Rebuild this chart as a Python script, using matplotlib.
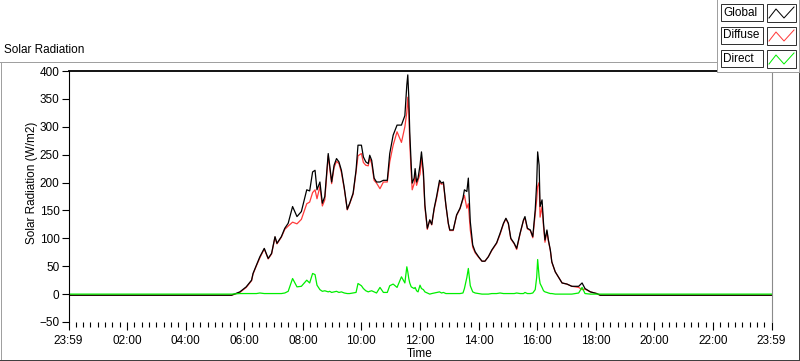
import numpy as np
import matplotlib
matplotlib.use("Agg")
import matplotlib.pyplot as plt
from matplotlib.lines import Line2D
from matplotlib.patches import Rectangle

# datos (W/m2)
times = ["00:00", "05:34", "05:51", "06:04", "06:15", "06:18", "06:25", "06:32", "06:41", "06:49",
         "06:56", "07:03", "07:07", "07:16", "07:23", "07:30", "07:39", "07:48", "07:57", "08:08",
         "08:14", "08:20", "08:25", "08:29", "08:35", "08:40", "08:45", "08:52", "08:55", "08:59",
         "09:04", "09:09", "09:14", "09:19", "09:25", "09:31", "09:36", "09:43", "09:49", "09:53",
         "10:00", "10:04", "10:09", "10:14", "10:17", "10:21", "10:26", "10:31", "10:38", "10:45",
         "10:53", "10:58", "11:05", "11:13", "11:22", "11:29", "11:33", "11:35", "11:37", "11:39",
         "11:42", "11:44", "11:48", "11:50", "11:53", "11:56", "12:00", "12:03", "12:07", "12:10",
         "12:15", "12:20", "12:24", "12:29", "12:34", "12:40", "12:44", "12:48", "12:53", "12:58",
         "13:01", "13:08", "13:15", "13:22", "13:28", "13:31", "13:36", "13:39", "13:43", "13:48",
         "13:53", "14:00", "14:07", "14:13", "14:20", "14:27", "14:37", "14:44", "14:51", "14:56",
         "15:01", "15:06", "15:13", "15:18", "15:25", "15:32", "15:35", "15:40", "15:46", "15:51",
         "15:56", "15:59", "16:01", "16:04", "16:06", "16:10", "16:13", "16:16", "16:20", "16:23",
         "16:27", "16:30", "16:37", "16:44", "16:51", "17:01", "17:11", "17:25", "17:32", "17:38",
         "17:49", "18:02", "18:09", "24:00"]

global_rad = [-2, -2, 4, 13, 25, 37, 52, 67, 82, 64,
              73, 103, 91, 103, 118, 127, 157, 139, 148, 187,
              185, 219, 222, 187, 201, 163, 175, 252, 231, 201,
              231, 243, 237, 222, 190, 152, 163, 181, 222, 267,
              267, 246, 237, 234, 249, 240, 208, 201, 201, 204,
              204, 252, 285, 303, 303, 320, 375, 393, 354, 291,
              231, 199, 208, 225, 201, 208, 231, 255, 219, 160,
              118, 133, 125, 154, 175, 204, 199, 201, 160, 127,
              115, 115, 142, 154, 172, 187, 184, 208, 130, 88,
              76, 67, 59, 59, 67, 79, 92, 109, 127, 136,
              127, 100, 91, 82, 109, 133, 139, 118, 115, 103,
              151, 199, 255, 231, 157, 169, 127, 97, 115, 97,
              79, 58, 40, 30, 20, 18, 14, 14, 20, 10,
              4, 1, -2, -2]

diffuse_rad = [-2, -2, 3, 12, 24, 36, 51, 65, 81, 63,
               72, 102, 90, 102, 116, 122, 129, 126, 134, 162,
               165, 182, 187, 171, 193, 158, 169, 248, 226, 198,
               227, 238, 234, 218, 188, 151, 162, 179, 219, 248,
               252, 236, 231, 230, 244, 234, 204, 199, 189, 201,
               201, 237, 267, 291, 272, 300, 326, 353, 326, 271,
               218, 187, 198, 213, 195, 204, 215, 245, 211, 156,
               116, 133, 124, 152, 172, 200, 197, 198, 159, 126,
               114, 114, 141, 153, 170, 177, 154, 162, 115, 84,
               74, 66, 59, 59, 67, 78, 91, 107, 126, 135,
               126, 99, 90, 80, 108, 132, 136, 117, 114, 101,
               143, 169, 193, 200, 138, 157, 121, 93, 112, 95,
               78, 57, 40, 30, 20, 18, 14, 12, 8, 9,
               4, 1, -2, -2]

direct_rad = [0, 0, 1, 1, 1, 1, 1, 2, 1, 1,
              1, 1, 1, 1, 2, 5, 28, 13, 14, 25,
              20, 37, 35, 16, 8, 5, 6, 4, 5, 3,
              4, 5, 3, 4, 2, 1, 1, 2, 3, 19,
              15, 10, 6, 4, 5, 6, 4, 2, 12, 3,
              3, 15, 18, 12, 31, 20, 49, 40, 28, 20,
              13, 12, 10, 12, 6, 4, 16, 10, 8, 4,
              2, 0, 1, 2, 3, 4, 2, 3, 1, 1,
              1, 1, 1, 1, 2, 10, 30, 46, 15, 4,
              2, 1, 0, 0, 0, 1, 1, 2, 1, 1,
              1, 1, 1, 2, 1, 1, 3, 1, 1, 2,
              8, 30, 62, 31, 19, 12, 6, 4, 3, 2,
              1, 1, 0, 0, 0, 0, 0, 2, 12, 1,
              0, 0, 0, 0]

series_names = ["Global", "Diffuse", "Direct"]
series_colors = ["black", "#ff3a3a", "#00ee00"]

tick_hours = list(range(0, 25, 2))
tick_labels = ["23:59", "02:00", "04:00", "06:00", "08:00", "10:00", "12:00",
               "14:00", "16:00", "18:00", "20:00", "22:00", "23:59"]


def to_hours(s):
    h, m = s.split(":")
    return int(h) + int(m) / 60.0


W, H = 800, 361
plt.rcParams["font.family"] = ["Liberation Sans", "DejaVu Sans"]
fs = 8.5

fig = plt.figure(figsize=(W / 100, H / 100), dpi=100)
ax = fig.add_axes([68.5 / W, 1 - 322 / H, 703 / W, 251 / H])

t = np.array([to_hours(s) for s in times])
ax.plot(t, diffuse_rad, color=series_colors[1], lw=0.9)
ax.plot(t, global_rad, color=series_colors[0], lw=0.9)
ax.plot(t, direct_rad, color=series_colors[2], lw=0.9)

ax.set_xlim(0, 24)
ax.set_ylim(-50, 400)
ax.set_yticks(np.arange(-50, 401, 50))
ax.set_xticks(tick_hours)
ax.set_xticklabels(tick_labels)
ax.set_xticks(np.arange(0, 24.01, 0.25), minor=True)
ax.tick_params(axis="y", direction="out", length=5, width=0.8, pad=1.5, labelsize=fs)
ax.tick_params(axis="x", which="major", direction="out", length=6, width=0.8, pad=3, labelsize=fs)
ax.tick_params(axis="x", which="minor", direction="out", length=3.5, width=0.8)

ax.spines["bottom"].set_visible(False)
ax.spines["top"].set_linewidth(1.3)
ax.spines["left"].set_linewidth(0.8)
ax.spines["right"].set_color("#8a8a8a")
ax.spines["right"].set_linewidth(0.8)

fig.text(420 / W, 1 - 354 / H, "Time", ha="center", va="center", fontsize=fs)
fig.text(31.5 / W, 1 - 183 / H, "Solar Radiation (W/m2)", rotation=90,
         ha="center", va="center", fontsize=fs)
fig.text(4 / W, 1 - 50 / H, "Solar Radiation", ha="left", va="center", fontsize=fs)


def px_line(xs, ys, color, lw=1.0, z=5):
    fig.add_artist(Line2D(np.array(xs) / W, 1 - np.array(ys) / H,
                          transform=fig.transFigure, color=color, lw=lw * 0.72, zorder=z))


def px_rect(x0, y0, x1, y1, fc, ec, z=5):
    fig.add_artist(Rectangle((x0 / W, 1 - y1 / H), (x1 - x0) / W, (y1 - y0) / H,
                             transform=fig.transFigure, facecolor=fc, edgecolor=ec,
                             lw=0.72, zorder=z))


# marco exterior
px_line([0, 717], [62, 62], "#a0a0a0")
px_line([0.5, 0.5], [62, 360], "#a0a0a0")
px_line([0, 799], [360, 360], "#404040")
px_line([799, 799], [72, 360], "#404040")

# leyenda
px_rect(717, -1, 799.5, 72, "white", "none", z=6)
px_line([717, 717], [0, 72], "#a0a0a0", z=7)
px_line([717, 799], [72, 72], "#a0a0a0", z=7)
px_line([799, 799], [0, 72], "#a0a0a0", z=7)
row_tops = [4, 27, 50]
for name, color, top in zip(series_names, series_colors, row_tops):
    px_rect(721, top, 763, top + 17, "white", "#333333", z=8)
    fig.text(723.5 / W, 1 - (top + 8.5) / H, name, ha="left", va="center",
             fontsize=fs, zorder=9)
    px_rect(767, top, 796, top + 18, "white", "#333333", z=8)
    px_line([769, 776, 784, 794], [top + 14, top + 5, top + 14, top + 3], color, z=9)

fig.savefig("out.png", dpi=100)
